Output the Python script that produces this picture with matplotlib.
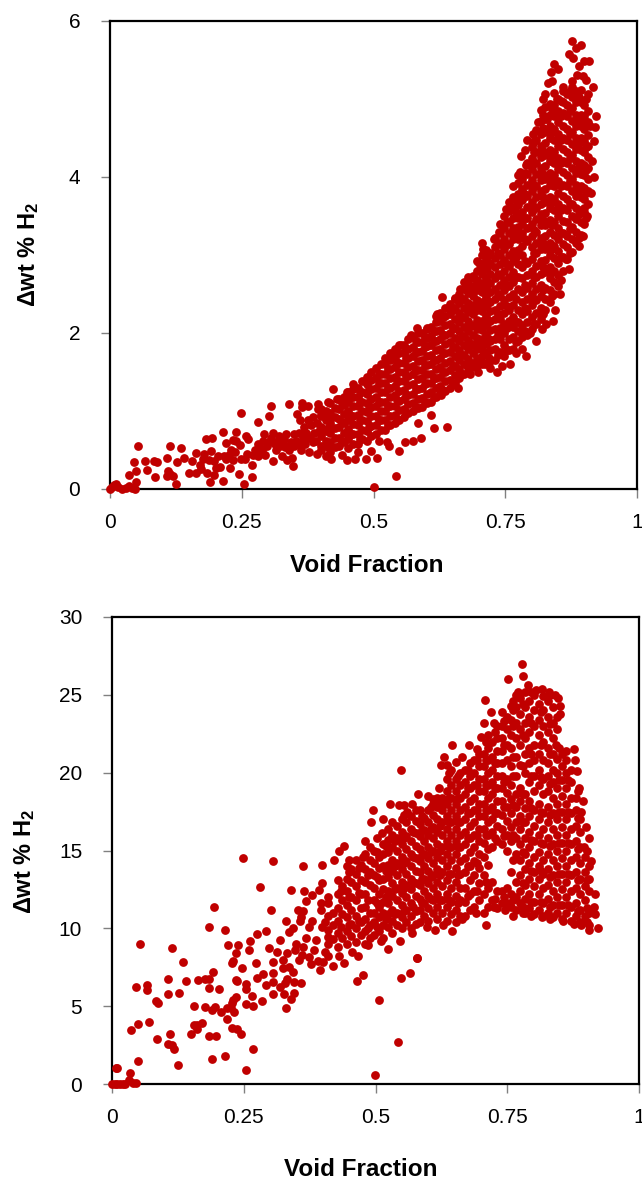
import matplotlib
matplotlib.use('Agg')
import matplotlib.pyplot as plt

plt.rcParams['font.family'] = ['Liberation Sans', 'DejaVu Sans']
plt.rcParams['mathtext.fontset'] = 'custom'
plt.rcParams['mathtext.bf'] = 'Liberation Sans:bold'

x_ticks = [0, 0.25, 0.5, 0.75, 1]
x_labels = ['0', '0.25', '0.5', '0.75', '1']
top_y_ticks = [0, 2, 4, 6]
bottom_y_ticks = [0, 5, 10, 15, 20, 25, 30]

# outlying points read one at a time, (void fraction, wt %)
top_sparse = [
    (.0, .0), (.004, .02), (.008, .05), (.012, .07), (.016, .02), (.022, .0), (.03, .01), (.036, .04),
    (.042, .01), (.047, .0), (.053, .55), (.046, .34), (.049, .23), (.037, .18), (.049, .09), (.066, .36),
    (.071, .24), (.083, .36), (.089, .35), (.086, .16), (.108, .40), (.113, .55), (.135, .53), (.140, .40),
    (.127, .35), (.110, .235), (.108, .167), (.119, .167), (.114, .19), (.125, .07), (.15, .2), (.156, .36),
    (.164, .457), (.164, .21), (.171, .31), (.178, .45), (.183, .64), (.193, .66), (.191, .49), (.187, .37),
    (.185, .2), (.197, .18), (.19, .09), (.202, .265), (.204, .42), (.214, .735), (.214, .10), (.221, .585),
    (.233, .63), (.239, .735), (.237, .48), (.221, .39), (.234, .37), (.228, .265), (.244, .19), (.254, .06),
    (.269, .16), (.249, .97), (.259, .68), (.261, .64), (.247, .56), (.256, .39), (.269, .31), (.281, .855),
    (.302, .935), (.305, 1.07), (.34, 1.085), (.364, 1.10), (.364, 1.05), (.376, 1.07), (.354, .96),
    (.394, 1.09), (.395, 1.03), (.413, 1.11), (.424, 1.28), (.43, 1.16), (.449, 1.25), (.462, 1.35),
    (.50, .03), (.347, .295), (.506, .40), (.525, .607), (.543, .167), (.548, .49), (.172, .26), (.208, .28),
    (.216, .42), (.226, .44), (.198, .36), (.177, .38), (.26, .45), (.248, .38), (.24, .62), (.229, .5),
    (.275, .5), (.283, .55), (.29, .62), (.298, .55), (.305, .66), (.313, .58), (.32, .68), (.327, .6),
    (.334, .7), (.34, .5), (.326, .42), (.345, .4), (.335, .37), (.31, .36), (.295, .43), (.28, .42),
    (.352, .62), (.358, .72), (.362, .5), (.37, .58), (.378, .47), (.385, .6), (.392, .45), (.4, .5),
    (.368, .8), (.36, .88), (.375, .88), (.387, .72), (.393, .85), (.4, .95), (.41, .42), (.42, .38),
    (.44, .44), (.45, .37), (.47, .47), (.485, .38), (.495, .49), (.465, .38), (.51, .62), (.53, .55),
    (.56, .6), (.575, .62), (.59, .66), (.615, .78), (.61, .95), (.585, .85),
    (.288, .5), (.302, .6), (.315, .5), (.322, .55), (.33, .64), (.344, .6), (.35, .7), (.366, .66),
    (.28, .58), (.272, .44), (.292, .7), (.31, .72), (.338, .55), (.372, .72), (.382, .82), (.39, .62),
    (.318, .62), (.332, .54), (.349, .55), (.356, .58), (.368, .68), (.379, .65), (.396, .74), (.386, .92)]
top_upper_edge = [
    (.877, 5.74), (.885, 5.66), (.893, 5.69), (.871, 5.58), (.879, 5.52), (.889, 5.42), (.900, 5.49),
    (.909, 5.49), (.842, 5.45), (.851, 5.38), (.836, 5.34), (.832, 5.21), (.838, 5.23), (.887, 5.31),
    (.898, 5.29), (.903, 5.24), (.877, 5.23), (.916, 5.16), (.907, 5.06), (.86, 5.16), (.825, 5.06),
    (.822, 5.0), (.923, 4.78), (.911, 4.65), (.920, 4.64), (.919, 4.46), (.803, 4.55), (.792, 4.48),
    (.803, 4.44), (.787, 4.35), (.780, 4.27), (.805, 4.32), (.778, 4.07), (.764, 3.89), (.752, 3.59),
    (.739, 3.30), (.705, 3.16), (.707, 3.08), (.729, 3.2), (.700, 2.9), (.716, 2.83), (.689, 2.73),
    (.665, 2.57), (.630, 2.46), (.645, 2.37), (.583, 2.07), (.601, 2.06), (.553, 1.85), (.571, 1.98),
    (.62, 2.25), (.655, 2.45), (.675, 2.62), (.79, 4.15), (.812, 4.7), (.83, 4.75), (.848, 5.0)]
top_lower_edge = [
    (.871, 2.82), (.889, 3.11), (.854, 2.5), (.828, 2.12), (.809, 1.9), (.782, 1.80), (.789, 1.70),
    (.759, 1.6), (.743, 1.58), (.734, 1.5), (.711, 1.6), (.683, 1.48), (.897, 3.25), (.905, 3.5),
    (.912, 3.8), (.918, 4.0), (.914, 4.2), (.865, 2.95), (.845, 2.3), (.84, 2.15), (.82, 2.05),
    (.797, 2.0), (.77, 1.75), (.722, 1.55), (.698, 1.5), (.66, 1.3), (.64, .8), (.628, 1.2), (.9, 3.6)]

# interior of the dense band, one column per void fraction
top_columns = {
    .40: [.55, .68, .80, .93, 1.02], .418: [.48, .6, .72, .85, .97, 1.1],
    .435: [.55, .66, .79, .9, 1.02, 1.15], .452: [.52, .64, .77, .88, 1.0, 1.12, 1.24],
    .47: [.58, .7, .82, .95, 1.06, 1.18, 1.3], .487: [.62, .75, .87, .99, 1.1, 1.22, 1.35, 1.44],
    .505: [.7, .82, .93, 1.06, 1.18, 1.3, 1.42, 1.55], .522: [.76, .88, 1.0, 1.12, 1.24, 1.36, 1.48, 1.6, 1.68],
    .54: [.84, .95, 1.07, 1.2, 1.32, 1.44, 1.56, 1.68, 1.8], .557: [.92, 1.03, 1.15, 1.27, 1.39, 1.5, 1.62, 1.74, 1.85],
    .575: [1.0, 1.1, 1.22, 1.35, 1.47, 1.58, 1.7, 1.82, 1.95], .592: [1.05, 1.17, 1.3, 1.42, 1.53, 1.65, 1.77, 1.89, 2.0],
    .61: [1.12, 1.24, 1.36, 1.48, 1.6, 1.72, 1.84, 1.96, 2.08], .627: [1.22, 1.32, 1.44, 1.56, 1.68, 1.8, 1.92, 2.04, 2.16, 2.26],
    .645: [1.3, 1.4, 1.52, 1.64, 1.76, 1.88, 2.0, 2.12, 2.24, 2.34], .662: [1.42, 1.54, 1.66, 1.78, 1.9, 2.02, 2.14, 2.26, 2.38, 2.5],
    .68: [1.55, 1.67, 1.79, 1.91, 2.03, 2.15, 2.27, 2.39, 2.51, 2.63, 2.72],
    .697: [1.58, 1.68, 1.8, 1.93, 2.05, 2.17, 2.3, 2.42, 2.55, 2.68, 2.8, 2.92],
    .714: [1.62, 1.74, 1.86, 1.98, 2.1, 2.22, 2.34, 2.46, 2.58, 2.7, 2.82, 2.94, 3.06],
    .731: [1.66, 1.8, 1.92, 2.05, 2.18, 2.3, 2.44, 2.56, 2.7, 2.84, 2.96, 3.1, 3.22],
    .748: [1.7, 1.85, 2.0, 2.12, 2.26, 2.42, 2.55, 2.68, 2.8, 2.94, 3.08, 3.2, 3.35, 3.5],
    .765: [1.8, 1.95, 2.08, 2.2, 2.36, 2.5, 2.65, 2.78, 2.92, 3.05, 3.2, 3.34, 3.48, 3.62, 3.75],
    .782: [1.95, 2.1, 2.24, 2.4, 2.52, 2.7, 2.84, 3.0, 3.12, 3.28, 3.4, 3.55, 3.7, 3.85, 3.98],
    .80: [2.05, 2.2, 2.36, 2.5, 2.64, 2.8, 2.95, 3.1, 3.25, 3.4, 3.55, 3.68, 3.82, 3.96, 4.1, 4.25, 4.38],
    .817: [2.18, 2.32, 2.48, 2.62, 2.76, 2.92, 3.08, 3.22, 3.38, 3.52, 3.66, 3.82, 3.96, 4.12, 4.26, 4.4, 4.55, 4.72, 4.86],
    .834: [2.4, 2.55, 2.7, 2.85, 3.0, 3.15, 3.3, 3.45, 3.6, 3.75, 3.9, 4.05, 4.2, 4.35, 4.5, 4.65, 4.8, 4.94],
    .851: [2.6, 2.75, 2.9, 3.05, 3.2, 3.35, 3.5, 3.65, 3.8, 3.95, 4.1, 4.25, 4.4, 4.55, 4.7, 4.85, 5.0],
    .868: [2.95, 3.1, 3.25, 3.42, 3.58, 3.72, 3.88, 4.02, 4.18, 4.32, 4.48, 4.62, 4.78, 4.92, 5.06],
    .885: [3.15, 3.3, 3.46, 3.6, 3.76, 3.9, 4.05, 4.2, 4.36, 4.5, 4.66, 4.8, 4.96, 5.1],
    .90: [3.4, 3.55, 3.72, 3.86, 4.02, 4.16, 4.32, 4.46, 4.62, 4.78, 4.92],
}

# same band, columns between the ones above
top_columns_between = {
    .409: [.62, .75, .88, 1.0], .427: [.54, .66, .78, .92, 1.04], .444: [.6, .72, .84, .96, 1.08, 1.18],
    .461: [.58, .7, .83, .94, 1.06, 1.18, 1.28], .479: [.64, .76, .88, 1.0, 1.12, 1.24, 1.38],
    .496: [.68, .81, .93, 1.05, 1.16, 1.28, 1.4, 1.5], .514: [.76, .88, 1.0, 1.12, 1.24, 1.36, 1.48, 1.6],
    .531: [.82, .94, 1.06, 1.18, 1.3, 1.42, 1.54, 1.66, 1.74], .549: [.89, 1.01, 1.13, 1.26, 1.38, 1.5, 1.62, 1.74, 1.84],
    .566: [.98, 1.09, 1.21, 1.33, 1.45, 1.56, 1.68, 1.8, 1.92], .584: [1.04, 1.16, 1.28, 1.41, 1.52, 1.64, 1.76, 1.88, 2.0],
    .601: [1.1, 1.22, 1.36, 1.47, 1.59, 1.71, 1.83, 1.94, 2.05], .619: [1.18, 1.3, 1.42, 1.54, 1.66, 1.78, 1.9, 2.02, 2.14, 2.22],
    .636: [1.26, 1.38, 1.5, 1.62, 1.74, 1.86, 1.98, 2.1, 2.22, 2.32], .654: [1.36, 1.46, 1.58, 1.7, 1.82, 1.94, 2.06, 2.18, 2.32, 2.44],
    .671: [1.48, 1.6, 1.72, 1.84, 1.96, 2.08, 2.2, 2.32, 2.44, 2.56, 2.66],
    .689: [1.56, 1.62, 1.74, 1.86, 1.98, 2.1, 2.24, 2.36, 2.48, 2.6, 2.7],
    .706: [1.6, 1.7, 1.8, 1.92, 2.04, 2.16, 2.28, 2.4, 2.52, 2.64, 2.76, 2.88, 3.0],
    .722: [1.64, 1.78, 1.9, 2.04, 2.16, 2.28, 2.4, 2.52, 2.64, 2.76, 2.9, 3.02],
    .74: [1.76, 1.92, 2.06, 2.18, 2.34, 2.48, 2.62, 2.74, 2.88, 3.0, 3.14, 3.28, 3.4],
    .757: [1.78, 1.92, 2.16, 2.3, 2.46, 2.6, 2.72, 2.86, 3.0, 3.14, 3.28, 3.42, 3.56, 3.68],
    .774: [1.9, 2.02, 2.14, 2.3, 2.56, 2.72, 2.88, 3.06, 3.2, 3.36, 3.48, 3.64, 3.78, 3.92, 4.02],
    .791: [1.98, 2.14, 2.28, 2.44, 2.58, 2.74, 2.9, 3.18, 3.34, 3.48, 3.62, 3.76, 3.9, 4.04, 4.18],
    .808: [2.12, 2.26, 2.42, 2.56, 2.72, 2.86, 3.02, 3.16, 3.3, 3.46, 3.6, 3.74, 3.88, 4.04, 4.18, 4.32, 4.48, 4.6],
    .825: [2.3, 2.44, 2.58, 2.78, 2.94, 3.08, 3.24, 3.38, 3.54, 3.68, 3.84, 3.98, 4.14, 4.28, 4.44, 4.58, 4.74, 4.9],
    .842: [2.5, 2.66, 2.8, 2.96, 3.12, 3.26, 3.42, 3.58, 3.72, 3.88, 4.02, 4.18, 4.32, 4.48, 4.62, 4.78, 4.92, 5.08],
    .86: [2.8, 2.98, 3.14, 3.28, 3.44, 3.6, 3.76, 3.9, 4.06, 4.2, 4.36, 4.5, 4.66, 4.82, 4.96, 5.1],
    .877: [3.04, 3.2, 3.36, 3.5, 3.66, 3.82, 3.98, 4.12, 4.28, 4.42, 4.58, 4.72, 4.88, 5.02, 5.16],
    .893: [3.26, 3.42, 3.58, 3.74, 3.88, 4.04, 4.18, 4.34, 4.5, 4.66, 4.8, 4.96, 5.12],
    .907: [3.66, 3.82, 3.98, 4.12, 4.26, 4.4, 4.54, 4.7, 4.84],
}

# points that close the gaps left between those columns
top_columns_gaps = {
    .414: [.54, .78, .92], .44: [.62, .86, 1.1], .457: [.7, .94, 1.18], .475: [.64, .88, 1.12, 1.24],
    .492: [.8, 1.04, 1.28], .51: [.88, 1.12, 1.36, 1.48], .527: [.82, 1.06, 1.3, 1.54],
    .545: [.9, 1.14, 1.38, 1.62, 1.76], .562: [.97, 1.21, 1.45, 1.68, 1.8], .58: [1.05, 1.28, 1.52, 1.76, 1.9],
    .597: [1.11, 1.35, 1.59, 1.82, 1.95], .615: [1.18, 1.42, 1.66, 1.9, 2.02], .632: [1.27, 1.5, 1.74, 1.98, 2.2],
    .65: [1.35, 1.58, 1.82, 2.06, 2.3], .667: [1.48, 1.72, 1.96, 2.2, 2.44], .685: [1.6, 1.85, 2.09, 2.33, 2.57],
    .702: [1.64, 1.86, 2.1, 2.36, 2.6, 2.82], .719: [1.68, 1.92, 2.16, 2.4, 2.64, 2.88, 3.0],
    .736: [1.72, 1.98, 2.24, 2.5, 2.76, 3.03, 3.16], .753: [1.78, 2.06, 2.34, 2.62, 2.88, 3.14, 3.42],
    .77: [1.88, 2.14, 2.44, 2.72, 2.98, 3.27, 3.55, 3.7], .787: [2.03, 2.32, 2.62, 2.92, 3.2, 3.48, 3.78, 4.05],
    .804: [2.12, 2.43, 2.72, 3.02, 3.32, 3.62, 3.9, 4.18, 4.46], .821: [2.25, 2.55, 2.84, 3.15, 3.45, 3.74, 4.04, 4.33, 4.63, 4.8],
    .838: [2.48, 2.78, 3.08, 3.38, 3.68, 3.98, 4.28, 4.58, 4.87], .855: [2.68, 2.98, 3.28, 3.58, 3.88, 4.18, 4.48, 4.78, 4.98],
    .872: [3.02, 3.33, 3.65, 3.95, 4.25, 4.55, 4.85, 5.1], .889: [3.22, 3.53, 3.83, 4.13, 4.43, 4.73, 5.03],
    .903: [3.48, 3.79, 4.09, 4.39, 4.7, 5.0],
}

bottom_sparse = [
    (.0, .0), (.005, .0), (.01, .0), (.015, .0), (.02, .02), (.024, .0), (.033, .25), (.04, .05), (.046, .05),
    (.008, 1.0), (.01, 1.0), (.035, .73), (.249, 14.5), (.305, 14.3), (.362, 14.0), (.398, 14.07), (.398, 12.93),
    (.281, 12.68), (.34, 12.44), (.364, 12.38), (.393, 12.44), (.379, 12.14), (.369, 11.76), (.409, 12.03),
    (.397, 11.6), (.397, 11.2), (.194, 11.39), (.302, 11.16), (.352, 11.2), (.362, 11.1), (.359, 10.75),
    (.357, 10.47), (.33, 10.47), (.343, 10.0), (.335, 9.74), (.374, 10.06), (.184, 10.09), (.214, 9.87),
    (.276, 9.61), (.293, 9.83), (.319, 9.27), (.262, 9.19), (.053, 8.97), (.113, 8.76), (.221, 8.91),
    (.239, 8.91), (.297, 8.76), (.26, 8.61), (.235, 8.39), (.134, 7.86), (.23, 7.92), (.227, 7.75),
    (.274, 7.77), (.246, 7.47), (.192, 7.17), (.185, 6.77), (.176, 6.72), (.164, 6.7), (.107, 6.75),
    (.14, 6.6), (.046, 6.25), (.066, 6.38), (.067, 6.04), (.235, 6.68), (.238, 6.6), (.254, 6.4), (.254, 6.1),
    (.203, 6.12), (.185, 6.19), (.107, 5.78), (.127, 5.87), (.266, 5.67), (.083, 5.35), (.087, 5.2),
    (.155, 5.01), (.176, 4.97), (.189, 4.73), (.196, 4.92), (.206, 4.65), (.235, 5.61), (.23, 5.4), (.227, 5.18),
    (.218, 4.86), (.226, 4.86), (.232, 4.6), (.254, 5.12), (.268, 4.99), (.285, 5.33), (.218, 4.2), (.071, 3.98),
    (.049, 3.88), (.037, 3.45), (.171, 3.92), (.161, 3.81), (.156, 3.79), (.162, 3.55), (.227, 3.62), (.238, 3.55),
    (.245, 3.23), (.149, 3.23), (.11, 3.19), (.184, 3.06), (.198, 3.08), (.086, 2.87), (.107, 2.57), (.113, 2.5),
    (.118, 2.23), (.268, 2.27), (.049, 1.48), (.19, 1.6), (.214, 1.78), (.125, 1.22), (.254, .88),
    (.276, 6.79), (.287, 7.07), (.306, 7.15), (.293, 6.34), (.306, 6.53), (.305, 5.8), (.319, 6.25), (.328, 6.47),
    (.333, 6.75), (.346, 6.53), (.358, 6.51), (.345, 5.82), (.34, 5.44), (.326, 5.76), (.33, 4.88), (.306, 7.86),
    (.314, 8.46), (.325, 7.97), (.333, 8.39), (.324, 7.47), (.335, 7.54), (.343, 7.22), (.354, 7.97), (.347, 8.61),
    (.363, 8.82), (.368, 9.36), (.373, 8.18), (.378, 7.69), (.395, 7.32), (.401, 7.86), (.388, 9.25), (.404, 8.5),
    (.41, 9.46), (.398, 10.1), (.404, 10.43), (.383, 8.6), (.39, 7.9), (.36, 8.3), (.35, 9.0), (.38, 10.5),
    (.499, .6), (.543, 2.7), (.548, 6.8), (.565, 7.1), (.579, 8.1), (.507, 5.4), (.465, 6.6), (.476, 7.0),
    (.42, 7.6), (.43, 8.2), (.44, 7.8), (.455, 8.5)]
bottom_upper_edge = [
    (.778, 26.97), (.780, 26.2), (.752, 26.0), (.707, 24.7), (.705, 23.2), (.725, 23.2), (.645, 21.8),
    (.548, 20.2), (.630, 21.0), (.625, 20.5), (.636, 20.5), (.652, 20.7), (.665, 21.0), (.700, 22.3),
    (.678, 21.8), (.692, 21.5), (.58, 18.6), (.528, 18.0), (.544, 17.9), (.554, 17.95), (.495, 17.6),
    (.491, 16.8), (.512, 16.1), (.502, 15.8), (.440, 15.3), (.430, 14.95), (.421, 14.4), (.449, 14.4),
    (.477, 14.6), (.893, 18.2), (.877, 21.5), (.862, 21.4), (.879, 20.8), (.882, 20.1), (.886, 19.0),
    (.843, 21.8), (.851, 23.8), (.851, 24.3), (.847, 24.8), (.829, 25.2), (.804, 25.3), (.789, 25.6),
    (.906, 15.8), (.909, 14.3), (.917, 12.2), (.917, 10.9), (.923, 10.0), (.905, 9.9), (.914, 11.4),
    (.901, 10.4), (.84, 25.0), (.815, 25.4), (.77, 25.2), (.76, 24.6), (.74, 23.9), (.72, 23.9), (.56, 17.5),
    (.57, 18.0), (.6, 18.5), (.61, 18.3), (.62, 19.0), (.64, 20.0), (.895, 15.2), (.9, 16.5), (.89, 17.5)]
bottom_lower_edge = [
    (.876, 10.3), (.832, 10.6), (.796, 10.8), (.761, 10.8), (.710, 10.2), (.645, 9.8), (.628, 10.2), (.597, 10.1),
    (.547, 9.2), (.524, 8.7), (.486, 8.9), (.467, 8.2), (.579, 8.1), (.855, 10.5), (.89, 10.2), (.815, 10.7),
    (.78, 11.0), (.745, 11.2), (.725, 11.4), (.69, 11.0), (.665, 10.6), (.612, 9.9), (.57, 9.7), (.51, 9.2)]

bottom_columns = {
    .41: [8.2, 9.0, 9.9, 10.8, 11.6], .428: [8.8, 9.7, 10.5, 11.3, 12.2, 13.1],
    .445: [9.0, 9.8, 10.7, 11.5, 12.4, 13.2, 14.0], .463: [9.1, 10.0, 10.8, 11.8, 12.7, 13.5, 14.4],
    .48: [9.0, 9.8, 10.6, 11.4, 12.2, 13.0, 13.8, 14.8, 15.6],
    .498: [9.6, 10.4, 11.0, 11.8, 12.6, 13.4, 14.2, 15.0],
    .515: [9.4, 10.2, 11.0, 11.7, 12.5, 13.2, 14.0, 14.8, 15.4, 17.0],
    .532: [9.7, 10.5, 11.2, 12.1, 12.9, 13.7, 14.4, 15.2, 16.0, 16.8],
    .55: [10.0, 10.7, 11.5, 12.3, 13.0, 13.8, 14.6, 15.4, 16.2, 17.0],
    .567: [10.0, 10.8, 11.6, 12.5, 13.2, 14.0, 14.8, 15.6, 16.4, 17.2],
    .585: [10.4, 11.2, 11.9, 12.8, 13.6, 14.3, 15.1, 15.9, 16.7, 17.6],
    .60: [10.5, 11.3, 12.1, 12.9, 13.7, 14.5, 15.2, 16.0, 16.8, 17.6],
    .617: [10.6, 11.4, 12.2, 13.0, 13.8, 14.6, 15.4, 16.2, 17.0, 17.8, 18.4],
    .635: [10.5, 11.4, 12.2, 13.1, 14.0, 14.8, 15.6, 16.4, 17.2, 18.0, 18.8, 19.6],
    .652: [10.4, 11.2, 12.1, 13.0, 13.9, 14.8, 15.6, 16.4, 17.2, 18.0, 18.8, 19.6],
    .67: [10.8, 11.7, 12.6, 13.6, 14.5, 15.4, 16.2, 17.0, 17.8, 18.6, 19.4, 20.2],
    .687: [11.4, 12.4, 13.4, 14.3, 15.2, 16.0, 16.8, 17.6, 18.4, 19.2, 20.0, 20.8],
    .705: [11.0, 12.2, 13.4, 14.6, 15.5, 16.4, 17.2, 18.0, 18.8, 19.6, 20.4, 21.2],
    .722: [11.8, 13.0, 15.2, 16.2, 17.0, 17.8, 18.6, 19.4, 20.2, 21.0, 22.0],
    .74: [11.6, 12.4, 15.4, 16.4, 17.3, 18.2, 19.0, 19.8, 20.6, 21.4, 22.2, 23.0],
    .757: [11.4, 12.2, 13.6, 15.6, 16.5, 17.4, 18.3, 19.2, 20.4, 21.6, 22.4, 23.4, 24.3],
    .775: [11.6, 12.4, 13.4, 14.4, 15.4, 16.4, 17.2, 18.2, 19.0, 20.5, 21.8, 22.8, 23.8, 24.8],
    .792: [11.3, 12.2, 13.2, 14.2, 15.2, 16.2, 17.2, 18.2, 19.4, 20.6, 21.6, 22.6, 23.6, 24.6],
    .81: [11.2, 12.2, 13.2, 14.0, 14.9, 16.0, 17.0, 18.0, 19.2, 20.2, 21.2, 22.4, 23.4, 24.4],
    .827: [11.0, 11.9, 12.8, 13.8, 14.8, 15.8, 16.8, 17.8, 18.8, 19.8, 20.6, 21.6, 22.6, 23.6, 24.6],
    .845: [11.0, 12.0, 13.0, 14.0, 15.0, 16.0, 17.0, 18.0, 19.0, 20.0, 20.9, 22.8, 23.6],
    .862: [11.0, 12.0, 13.0, 14.0, 15.0, 16.0, 17.0, 18.0, 19.0, 20.0, 20.8],
    .88: [10.8, 11.6, 12.6, 13.6, 14.6, 15.6, 16.6, 17.6, 18.4],
    .897: [10.8, 11.8, 12.7, 13.6, 14.6],
}

bottom_columns_between = {
    .42: [9.3, 10.2, 11.0], .437: [9.4, 10.9, 11.8, 12.7], .454: [9.5, 10.3, 11.2, 12.0, 13.0, 13.8],
    .472: [9.6, 10.4, 11.3, 12.2, 13.1, 14.1], .489: [9.4, 10.2, 11.0, 12.8, 13.6, 14.4, 15.2],
    .506: [9.8, 10.7, 11.4, 12.2, 13.1, 13.9, 14.6], .524: [10.1, 10.9, 11.6, 12.4, 13.3, 14.1, 14.9, 15.7, 16.4],
    .541: [10.2, 11.0, 11.8, 12.6, 13.4, 14.2, 15.0, 15.8, 16.6], .558: [10.4, 11.2, 12.0, 12.8, 13.5, 14.3, 15.1, 15.9, 16.8],
    .576: [10.3, 11.1, 12.1, 12.9, 13.7, 14.5, 15.3, 16.1, 16.9, 17.6], .592: [10.8, 11.6, 12.4, 13.2, 14.0, 14.8, 15.6, 16.3, 17.1],
    .609: [11.0, 11.8, 12.6, 13.4, 14.2, 15.0, 15.8, 16.5, 17.3, 18.0], .626: [11.0, 11.8, 12.7, 13.6, 14.4, 15.2, 16.0, 16.8, 17.6, 18.4],
    .644: [10.9, 11.7, 12.6, 13.5, 14.4, 15.2, 16.0, 16.8, 17.6, 18.4, 19.2, 20.2],
    .661: [10.8, 11.8, 12.6, 13.5, 14.3, 15.2, 16.0, 16.8, 17.6, 18.4, 19.2, 20.0],
    .679: [11.2, 12.2, 13.1, 14.0, 14.9, 15.8, 16.6, 17.4, 18.2, 19.0, 19.8, 20.6],
    .696: [11.8, 12.9, 13.9, 14.8, 15.6, 16.4, 17.2, 18.0, 18.8, 19.6, 20.4, 21.2],
    .714: [11.4, 12.6, 14.1, 15.1, 16.0, 16.8, 17.6, 18.4, 19.2, 20.0, 20.8, 21.6, 22.4],
    .731: [11.3, 12.4, 15.6, 16.6, 17.4, 18.2, 19.0, 19.8, 20.6, 21.4, 22.2, 23.0],
    .749: [11.6, 12.6, 15.0, 16.0, 16.9, 17.8, 18.7, 19.6, 20.8, 21.8, 22.8, 23.6],
    .766: [11.2, 12.0, 13.0, 14.8, 15.8, 16.8, 17.8, 18.6, 19.8, 21.0, 22.2, 23.2, 24.2, 25.0],
    .783: [11.0, 11.9, 12.8, 13.8, 14.8, 15.8, 16.8, 17.7, 18.6, 20.0, 21.2, 22.2, 23.2, 24.2, 25.2],
    .801: [10.9, 11.7, 12.7, 13.6, 14.6, 15.6, 16.6, 17.6, 18.8, 19.8, 20.8, 21.8, 23.0, 24.0, 25.0],
    .818: [10.8, 11.6, 12.6, 13.5, 14.4, 15.4, 16.4, 17.4, 18.6, 19.6, 20.8, 22.0, 23.0, 24.0, 24.9],
    .836: [10.7, 11.5, 12.4, 13.4, 14.4, 15.4, 16.4, 17.4, 18.4, 19.4, 20.2, 21.2, 22.2, 23.2, 24.2],
    .853: [10.6, 11.5, 12.5, 13.5, 14.5, 15.5, 16.5, 17.5, 18.5, 19.5, 20.4, 21.2],
    .871: [10.5, 11.4, 12.4, 13.4, 14.4, 15.4, 16.4, 17.4, 18.4, 19.4, 20.2],
    .888: [10.4, 11.2, 12.2, 13.2, 14.2, 15.2, 16.2, 17.0],
    .906: [10.2, 11.0, 12.4, 13.2, 14.0],
}

bottom_columns_gaps = {
    .434: [10.1, 12.4], .45: [10.2, 12.0, 13.6], .468: [10.5, 12.3, 13.9], .485: [10.0, 11.8, 13.4],
    .502: [10.1, 11.6, 13.3, 14.9], .52: [10.6, 12.0, 13.7, 15.3], .537: [10.9, 12.5, 14.0, 15.6],
    .554: [11.1, 12.6, 14.2, 15.8, 17.3], .571: [11.4, 13.0, 14.6, 16.2], .589: [11.6, 13.2, 14.7, 16.3, 17.2],
    .605: [11.9, 13.3, 14.9, 16.4, 17.8], .622: [11.8, 13.4, 15.0, 16.6, 18.0], .64: [11.8, 13.5, 15.2, 16.8, 18.4],
    .657: [11.6, 13.4, 15.2, 16.8, 18.4, 19.8], .675: [12.1, 14.0, 15.8, 17.4, 19.0, 20.2], .692: [12.4, 14.2, 16.0, 17.6, 19.2, 20.8],
    .71: [13.0, 16.0, 17.6, 19.2, 20.8, 22.0], .727: [11.9, 15.8, 17.4, 19.0, 20.6, 22.6], .744: [12.0, 15.9, 17.8, 19.4, 21.8, 23.3],
    .761: [11.8, 14.4, 16.0, 17.9, 19.8, 21.0, 23.0, 24.0], .779: [11.4, 12.9, 14.9, 16.8, 18.6, 20.4, 22.4, 24.4],
    .796: [11.7, 13.7, 15.7, 17.7, 19.8, 21.2, 23.2, 25.2], .814: [11.7, 13.7, 15.5, 17.5, 19.7, 21.8, 23.9],
    .831: [11.4, 13.3, 15.3, 17.3, 19.3, 21.2, 23.1, 25.0], .849: [11.5, 13.5, 15.5, 17.5, 19.5, 21.6],
    .866: [11.5, 13.5, 15.5, 17.5, 19.5], .884: [11.1, 13.1, 15.1, 17.1, 18.8], .901: [11.3, 13.1, 15.0],
}


def draw_panel(ax, point_groups, column_groups, y_ticks):
    for pts in point_groups:
        ax.scatter([p[0] for p in pts], [p[1] for p in pts], s=40, color='#C00000', linewidths=0, clip_on=False, zorder=3)
    for columns in column_groups:
        for x, ys in columns.items():
            ax.scatter([x] * len(ys), ys, s=40, color='#C00000', linewidths=0, clip_on=False, zorder=3)
    ax.set_xlim(0, 1)
    ax.set_ylim(y_ticks[0], y_ticks[-1])
    ax.set_xticks(x_ticks)
    ax.set_xticklabels(x_labels)
    ax.set_yticks(y_ticks)
    ax.tick_params(axis='x', length=6.5, width=1, color='#808080', labelsize=15, pad=11)
    ax.tick_params(axis='y', length=6.5, width=1, color='#808080', labelsize=15, pad=15)
    for spine in ax.spines.values():
        spine.set_linewidth(1.6)
        spine.set_color('black')
        spine.set_zorder(2)


W, H = 642, 1179
fig = plt.figure(figsize=(W / 100, H / 100), dpi=100)

ax1 = fig.add_axes([110 / W, (H - 489) / H, 527 / W, 468 / H])
draw_panel(ax1, [top_sparse, top_upper_edge, top_lower_edge],
           [top_columns, top_columns_between, top_columns_gaps], top_y_ticks)
ax2 = fig.add_axes([112 / W, (H - 1084) / H, 527 / W, 467 / H])
draw_panel(ax2, [bottom_sparse, bottom_upper_edge, bottom_lower_edge],
           [bottom_columns, bottom_columns_between, bottom_columns_gaps], bottom_y_ticks)

ylabel = 'Δwt % H$\\mathbf{_2}$'
fig.text(367 / W, 1 - 565 / H, 'Void Fraction', ha='center', va='center', fontsize=17.5, fontweight='bold')
fig.text(361 / W, 1 - 1169 / H, 'Void Fraction', ha='center', va='center', fontsize=17.5, fontweight='bold')
fig.text(29 / W, 1 - 254 / H, ylabel, rotation=90, ha='center', va='center', fontsize=17, fontweight='bold')
fig.text(25 / W, 1 - 861 / H, ylabel, rotation=90, ha='center', va='center', fontsize=17, fontweight='bold')

plt.savefig('out.png', dpi=100)
